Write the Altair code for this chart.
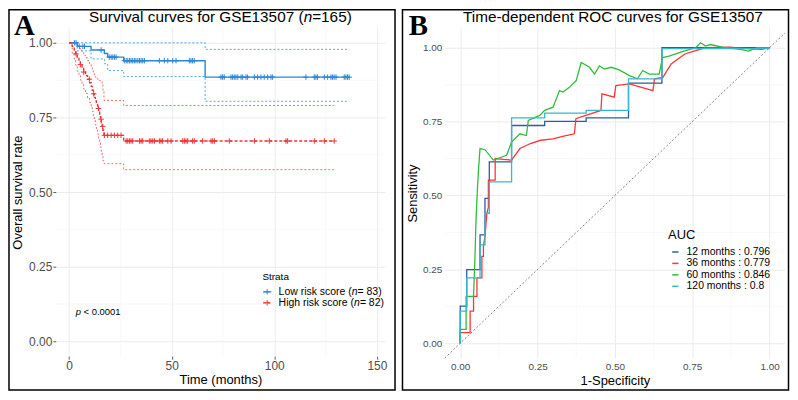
import altair as alt
import pandas as pd

# ---------------- Panel A : Kaplan-Meier curves ----------------
low_time = [0, 4.0, 10.7, 17.2, 18.8, 26.6, 66.3, 136.5]
low_est = [1.0, 0.988, 0.976, 0.964, 0.952, 0.940, 0.885, 0.885]
low_upper = [1.0, 1.0, 1.0, 1.0, 1.0, 1.0, 0.978, 0.978]
low_lower = [1.0, 0.973, 0.946, 0.930, 0.907, 0.887, 0.804, 0.804]
low_censor = [2.6, 3.4, 5.0, 6.7, 7.5, 15.6, 19.6, 20.5, 21.3, 22.1, 22.9,
              26.9, 27.8, 28.6, 29.4, 30.2, 31.0, 31.8, 32.6, 33.5, 34.3, 35.1, 35.9, 36.7,
              44.0, 46.4, 48.1, 50.5, 52.1, 58.6, 59.4, 60.2, 61.0,
              74.0, 74.8, 75.6, 78.9, 79.7, 80.5, 81.3, 82.2, 83.8, 84.6, 86.2, 87.0,
              90.3, 91.9, 93.5, 95.1, 96.8, 98.4, 99.2, 115.4, 119.5, 120.3, 121.1,
              124.4, 126.0, 127.6, 128.4, 129.2, 130.1, 134.1, 134.9, 135.7, 136.5]

high_time = [0, 1.5, 2.5, 3.2, 4.0, 4.8, 5.5, 6.3, 7.1, 8.0, 9.0, 10.0, 10.8, 11.3,
             11.8, 12.3, 12.8, 13.3, 13.9, 14.4, 14.9, 15.3, 15.7, 16.1, 16.5, 17.0,
             26.6, 129.2]
high_est = [1.0, 0.988, 0.976, 0.963, 0.951, 0.939, 0.927, 0.915, 0.902, 0.890, 0.878,
            0.866, 0.854, 0.841, 0.829, 0.817, 0.805, 0.793, 0.780, 0.768, 0.756, 0.744,
            0.732, 0.720, 0.707, 0.690, 0.671, 0.671]
high_upper = [1.0, 1.0, 1.0, 0.998, 0.99, 0.982, 0.975, 0.967, 0.958, 0.95, 0.94, 0.93,
              0.92, 0.91, 0.90, 0.89, 0.885, 0.88, 0.878, 0.875, 0.873, 0.873, 0.87,
              0.86, 0.84, 0.807, 0.79, 0.79]
high_lower = [1.0, 0.965, 0.945, 0.925, 0.905, 0.89, 0.875, 0.86, 0.845, 0.83, 0.815,
              0.80, 0.785, 0.77, 0.755, 0.74, 0.725, 0.71, 0.695, 0.68, 0.665, 0.65,
              0.635, 0.62, 0.605, 0.595, 0.575, 0.575]
high_censor = [3.4, 5.5, 7.1, 9.9, 12.0, 14.3, 15.6, 16.4, 17.2, 18.8, 20.5, 22.1, 23.7, 25.3,
               27.8, 28.6, 29.4, 30.2, 31.0, 34.3, 35.1, 35.9, 39.1, 39.9, 40.8, 41.6,
               44.0, 44.8, 45.6, 48.1, 49.7, 55.4, 56.2, 57.0, 57.8, 60.2, 61.0, 65.1,
               69.2, 70.0, 70.8, 78.1, 90.3, 97.6, 105.7, 106.5, 119.5, 124.4, 129.2]

strata_names = ["Low risk score", "High risk score"]
strata_n = [83, 82]
total_n = 165
x_ticks_A = [0, 50, 100, 150]
x_minor_A = [25, 75, 125]
y_ticks = [0, 0.25, 0.5, 0.75, 1.0]
y_minor = [0.125, 0.375, 0.625, 0.875]

# ---------------- Panel B : time-dependent ROC ----------------
roc_labels = ["12 months : 0.796", "36 months : 0.779", "60 months : 0.846", "120 months : 0.8"]
fpr_12 = [0, 0, 0.021, 0.021, 0.064, 0.064, 0.080, 0.080, 0.094, 0.094, 0.166, 0.166,
          0.273, 0.273, 0.407, 0.407, 0.544, 0.544, 0.652, 0.652, 1.0]
tpr_12 = [0, 0.126, 0.126, 0.249, 0.249, 0.367, 0.367, 0.490, 0.490, 0.614, 0.614, 0.737,
          0.737, 0.751, 0.751, 0.763, 0.763, 0.880, 0.880, 1.0, 1.0]
fpr_36 = [0, 0, 0.032, 0.032, 0.043, 0.043, 0.054, 0.054, 0.070, 0.070, 0.075, 0.075, 0.080,
          0.086, 0.091, 0.091, 0.113, 0.113, 0.140, 0.166, 0.180, 0.193, 0.227, 0.26, 0.30,
          0.331, 0.369, 0.374, 0.406, 0.455, 0.458, 0.498, 0.503, 0.547, 0.623, 0.628, 0.655,
          0.682, 0.726, 0.791, 0.87, 0.93, 0.974, 1.0]
tpr_36 = [0, 0.036, 0.036, 0.109, 0.109, 0.159, 0.159, 0.221, 0.221, 0.294, 0.294, 0.328, 0.361,
          0.44, 0.46, 0.552, 0.552, 0.625, 0.622, 0.62, 0.64, 0.659, 0.676, 0.687, 0.692,
          0.70, 0.709, 0.76, 0.771, 0.788, 0.844, 0.833, 0.872, 0.878, 0.855, 0.895, 0.90,
          0.945, 0.979, 1.0, 1.002, 0.997, 0.995, 1.0]
fpr_60 = [0, 0, 0.019, 0.019, 0.043, 0.048, 0.051, 0.056, 0.059, 0.062, 0.064, 0.080, 0.107,
          0.150, 0.166, 0.193, 0.214, 0.220, 0.257, 0.273, 0.300, 0.321, 0.332, 0.353, 0.375,
          0.391, 0.418, 0.434, 0.450, 0.466, 0.488, 0.514, 0.547, 0.573, 0.590, 0.611, 0.643,
          0.654, 0.675, 0.718, 0.761, 0.777, 0.793, 0.809, 0.847, 0.911, 0.932, 0.959, 1.0]
tpr_60 = [0, 0.047, 0.047, 0.159, 0.159, 0.305, 0.417, 0.53, 0.586, 0.631, 0.659, 0.655, 0.62,
          0.636, 0.681, 0.709, 0.703, 0.754, 0.771, 0.788, 0.799, 0.855, 0.85, 0.866, 0.889,
          0.95, 0.934, 0.911, 0.939, 0.928, 0.934, 0.925, 0.906, 0.895, 0.923, 0.911, 0.911,
          0.967, 0.972, 0.987, 1.0, 1.017, 1.006, 1.011, 1.002, 0.994, 0.989, 1.0, 1.0]
fpr_120 = [0, 0, 0.021, 0.021, 0.064, 0.064, 0.080, 0.080, 0.094, 0.094, 0.166, 0.166,
           0.273, 0.273, 0.407, 0.407, 0.544, 0.544, 0.652, 0.652, 1.0]
tpr_120 = [0, 0.109, 0.109, 0.221, 0.221, 0.333, 0.333, 0.440, 0.440, 0.546, 0.546, 0.763,
           0.763, 0.779, 0.779, 0.788, 0.788, 0.895, 0.895, 0.997, 0.997]
x_ticks_B = [0, 0.25, 0.5, 0.75, 1.0]
x_minor_B = [0.125, 0.375, 0.625, 0.875]

# ---------------- styling ----------------
BLUE, RED = "#2B86D5", "#EE3434"
BLUE_CI, RED_CI = "#4DA8EA", "#F26A6A"
ROC_COLORS = ["#2A5DA3", "#FF3535", "#2EBE3A", "#38B8CE"]
GRID, GRID_MINOR = "#EBEBEB", "#F3F3F3"
FONT = "Liberation Sans"
SERIF = "Liberation Serif"

ARIAL = {' ': 278, '(': 333, ')': 333, '=': 584, '<': 584, '.': 278, ':': 278, '-': 333,
         'A': 667, 'C': 722, 'E': 667, 'G': 778, 'H': 722, 'L': 556, 'O': 778, 'R': 722,
         'S': 667, 'T': 611, 'U': 722, 'a': 556, 'c': 500, 'd': 556, 'e': 556, 'f': 278,
         'g': 556, 'h': 556, 'i': 222, 'k': 500, 'l': 222, 'm': 833, 'n': 556, 'o': 556,
         'p': 556, 'r': 333, 's': 500, 't': 278, 'u': 556, 'v': 500, 'w': 722, 'y': 500}


def tw(s, size):
    return sum(ARIAL.get(c, 556) for c in s) * size / 1000.0


one = pd.DataFrame({"k": [0]})


def txt(text, x, y, size, italic=False, align="left", font=FONT, weight="normal", color="black"):
    """y is the alphabetic baseline; drawn with baseline 'top' so bounds stay tight."""
    ytop = y - round(0.79 * size)
    return alt.Chart(one).mark_text(
        text=text, align=align, baseline="top", fontSize=size,
        fontStyle="italic" if italic else "normal", font=font, fontWeight=weight, color=color
    ).encode(x=alt.value(x), y=alt.value(ytop))


def rich(parts, x, y, size, color="black"):
    """parts: list of (text, italic) drawn left to right."""
    layers = []
    cx = x
    for t, it in parts:
        lead = len(t) - len(t.lstrip(" "))
        cx += tw(" " * lead, size)
        t2 = t.lstrip(" ")
        layers.append(txt(t2, cx, y, size, italic=it, color=color))
        cx += tw(t2, size)
    return layers


def surv_at(times, est, t):
    v = est[0]
    for ti, ei in zip(times, est):
        if ti <= t:
            v = ei
    return v


TOP = -18.25     # border top relative to the (shared) plot origin row
BOTTOM = 364     # border bottom relative to plot origin

# ---------------- Panel A ----------------
WA, HA = 331, 330
xA = alt.Scale(domain=[-6.5, 154], nice=False, zero=False)
yA = alt.Scale(domain=[-0.05, 1.05], nice=False, zero=False)
axA_x = alt.Axis(values=x_ticks_A, title="Time (months)", grid=True, gridColor=GRID, gridWidth=1,
                 domain=False, ticks=True, tickSize=3, tickColor="#333333", tickWidth=0.8,
                 labelFontSize=12, labelColor="#4D4D4D", labelPadding=1, labelFlush=False,
                 titleFontSize=13, titleFontWeight="normal", titleColor="black", titlePadding=2)
axA_y = alt.Axis(values=y_ticks, format=".2f", title="Overall survival rate", grid=True,
                 gridColor=GRID, gridWidth=1, domain=False, ticks=True, tickSize=3,
                 tickColor="#333333", tickWidth=0.8, labelFontSize=12, labelColor="#4D4D4D",
                 labelPadding=1, labelFlush=False, titleFontSize=13, titleFontWeight="normal",
                 titleColor="black", titlePadding=4)

est_rows, ci_rows, cens_rows = [], [], []
for name, times, est, up, lo, cens in [
        ("Low", low_time, low_est, low_upper, low_lower, low_censor),
        ("High", high_time, high_est, high_upper, high_lower, high_censor)]:
    for t, e, u, l in zip(times, est, up, lo):
        est_rows.append({"t": t, "s": e, "series": name})
        ci_rows.append({"t": t, "s": u, "band": name, "grp": name + "_u"})
        ci_rows.append({"t": t, "s": l, "band": name, "grp": name + "_l"})
    for c in cens:
        cens_rows.append({"t": c, "s": surv_at(times, est, c), "series": name})
est_df = pd.DataFrame(est_rows)
ci_df = pd.DataFrame(ci_rows)
cens_df = pd.DataFrame(cens_rows)

colA = alt.Color("series:N", scale=alt.Scale(domain=["Low", "High"], range=[BLUE, RED]), legend=None)
dashA = alt.StrokeDash("series:N", scale=alt.Scale(domain=["Low", "High"], range=[[1, 0], [3, 2]]), legend=None)
PLUS = "M-1,0L1,0M0,-1L0,1"

borderA = alt.Chart(one).mark_rect(fillOpacity=0, stroke="black", strokeWidth=1.5).encode(
    x=alt.value(-47), x2=alt.value(WA + 10), y=alt.value(TOP), y2=alt.value(BOTTOM))
minorAx = alt.Chart(pd.DataFrame({"v": x_minor_A})).mark_rule(color=GRID_MINOR, strokeWidth=0.6).encode(
    x=alt.X("v:Q", scale=xA, axis=axA_x))
minorAy = alt.Chart(pd.DataFrame({"v": y_minor})).mark_rule(color=GRID_MINOR, strokeWidth=0.6).encode(
    y=alt.Y("v:Q", scale=yA, axis=axA_y))
ci_layers = []
for name, ccol in [("Low", BLUE_CI), ("High", RED_CI)]:
    ci_layers.append(
        alt.Chart(ci_df).transform_filter(alt.datum.band == name)
        .mark_line(interpolate="step-after", strokeWidth=1.0, strokeDash=[2, 2], color=ccol)
        .encode(x=alt.X("t:Q", scale=xA, axis=axA_x), y=alt.Y("s:Q", scale=yA, axis=axA_y),
                detail="grp:N"))
estA = alt.Chart(est_df).mark_line(interpolate="step-after", strokeWidth=1.4).encode(
    x=alt.X("t:Q", scale=xA, axis=axA_x), y=alt.Y("s:Q", scale=yA, axis=axA_y), color=colA, strokeDash=dashA)
censA = alt.Chart(cens_df).mark_point(shape=PLUS, filled=False, size=30, strokeWidth=1, opacity=1).encode(
    x=alt.X("t:Q", scale=xA, axis=axA_x), y=alt.Y("s:Q", scale=yA, axis=axA_y), color=colA)

# title with italic n
TS = 15.4
title_parts = [("Survival curves for GSE13507 (", False), ("n", True), ("=%d)" % total_n, False)]
title_w = sum(tw(t, TS) for t, _ in title_parts)
textA = rich(title_parts, WA / 2 - title_w / 2, -5.5, TS)
textA.append(txt("A", -42, 7, 29, font=SERIF, weight="bold"))
textA += rich([("p", True), (" < 0.0001", False)], 20, 288.5, 9.5)
# legend (strata)
textA.append(txt("Strata", 207.7, 253.7, 10))
leg_rows = []
for i, (nm, n, colr, dash) in enumerate(zip(strata_names, strata_n, [BLUE, RED], [[1, 0], [3, 1.5]])):
    yy = 265.3 + 11 * i
    leg_rows.append(alt.Chart(one).mark_rule(color=colr, strokeWidth=1.3, strokeDash=dash).encode(
        x=alt.value(208.3), x2=alt.value(216.7), y=alt.value(yy)))
    leg_rows.append(alt.Chart(one).mark_point(shape=PLUS, filled=False, size=30, strokeWidth=1, color=colr,
                                              opacity=1).encode(x=alt.value(212.5), y=alt.value(yy)))
    leg_rows += rich([(nm + " (", False), ("n", True), ("= %d)" % n, False)], 224, yy + 3.6, 10.5)

panelA = alt.layer(borderA, minorAx, minorAy, *ci_layers, estA, censA, *textA, *leg_rows).properties(
    width=WA, height=HA)

# ---------------- Panel B ----------------
# both panels share the same plot-origin row; B's panel is 5px lower in the
# reference, so its y domain reaches a little higher to keep 1.00 in place
WB, HB = 342, 332
xB = alt.Scale(domain=[-0.05, 1.05], nice=False, zero=False)
yB = alt.Scale(domain=[-0.0505, 1.0673], nice=False, zero=False)
axB_x = alt.Axis(values=x_ticks_B, format=".2f", title="1-Specificity", grid=True, gridColor=GRID,
                 gridWidth=1, domain=False, ticks=False, labelFontSize=10, labelColor="#4D4D4D",
                 labelPadding=3.4, labelFlush=False, titleFontSize=13, titleFontWeight="normal",
                 titleColor="black", titlePadding=2.6)
axB_y = alt.Axis(values=y_ticks, format=".2f", title="Sensitivity", grid=True, gridColor=GRID,
                 gridWidth=1, domain=False, ticks=False, labelFontSize=10, labelColor="#4D4D4D",
                 labelPadding=3, labelFlush=False, titleFontSize=13, titleFontWeight="normal",
                 titleColor="black", titlePadding=3)

roc_rows = []
for lab, fx, ty in zip(roc_labels, [fpr_12, fpr_36, fpr_60, fpr_120], [tpr_12, tpr_36, tpr_60, tpr_120]):
    for i, (a, b) in enumerate(zip(fx, ty)):
        roc_rows.append({"fpr": a, "tpr": b, "curve": lab, "idx": i})
roc_df = pd.DataFrame(roc_rows)
diag_df = pd.DataFrame({"fpr": [-0.05, 1.05], "tpr": [-0.05, 1.05]})

borderB = alt.Chart(one).mark_rect(fillOpacity=0, stroke="black", strokeWidth=1.5).encode(
    x=alt.value(-42.5), x2=alt.value(WB + 3.5), y=alt.value(TOP), y2=alt.value(BOTTOM))
minorBx = alt.Chart(pd.DataFrame({"v": x_minor_B})).mark_rule(color=GRID_MINOR, strokeWidth=0.6).encode(
    x=alt.X("v:Q", scale=xB, axis=axB_x))
minorBy = alt.Chart(pd.DataFrame({"v": y_minor})).mark_rule(color=GRID_MINOR, strokeWidth=0.6).encode(
    y=alt.Y("v:Q", scale=yB, axis=axB_y))
diagB = alt.Chart(diag_df).mark_line(color="#666666", strokeWidth=0.8, strokeDash=[2, 2]).encode(
    x=alt.X("fpr:Q", scale=xB, axis=axB_x), y=alt.Y("tpr:Q", scale=yB, axis=axB_y))
rocB = alt.Chart(roc_df).mark_line(strokeWidth=1.3).encode(
    x=alt.X("fpr:Q", scale=xB, axis=axB_x), y=alt.Y("tpr:Q", scale=yB, axis=axB_y),
    order=alt.Order("idx:Q"),
    color=alt.Color("curve:N", scale=alt.Scale(domain=roc_labels, range=ROC_COLORS),
                    legend=alt.Legend(title="AUC", orient="none", legendX=224.5, legendY=202,
                                      titleFontSize=13, titleFontWeight="normal", titleColor="black",
                                      titlePadding=5, labelFontSize=10.5, labelColor="black",
                                      symbolType="stroke", symbolStrokeWidth=1.5, symbolSize=40,
                                      symbolOffset=2, labelOffset=6, rowPadding=0.5, padding=0)))
textB = [txt("Time-dependent ROC curves for GSE13507", WB / 2 - 2, -6, TS, align="center"),
         txt("B", -36.2, 7, 29, font=SERIF, weight="bold")]

panelB = alt.layer(borderB, minorBx, minorBy, diagB, rocB, *textB).properties(width=WB, height=HB)

chart = alt.hconcat(panelA, panelB, spacing=5, bounds="full").resolve_scale(
    color="independent", strokeDash="independent", x="independent", y="independent"
).resolve_legend(color="independent").properties(padding=0).configure(
    font=FONT).configure_view(stroke=None)

chart.save("out.html", embed_options={"renderer": "svg", "actions": False})
